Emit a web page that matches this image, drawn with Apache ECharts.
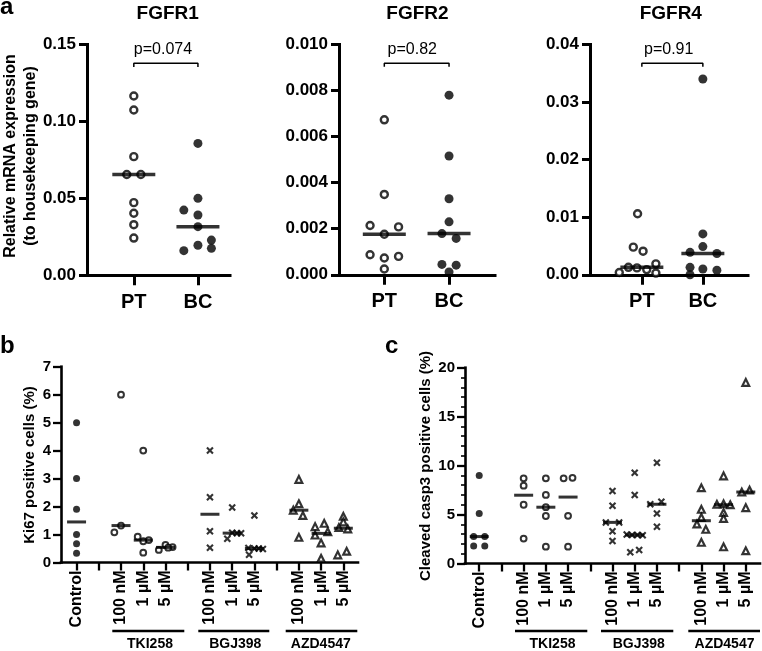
<!DOCTYPE html>
<html><head><meta charset="utf-8">
<script src="https://cdn.jsdelivr.net/npm/echarts@6/dist/echarts.min.js"></script>
<style>html,body{margin:0;padding:0;background:#fff}#c{width:762px;height:651px}</style>
</head><body><div id="c"></div>
<script>
// ---------------- DATA: panel a ----------------
const aCategories = ['PT', 'BC'];
const aTitles = ['FGFR1', 'FGFR2', 'FGFR4'];
const aPValues = ['p=0.074', 'p=0.82', 'p=0.91'];
const fgfr1Ticks = [0, 0.05, 0.10, 0.15];
const fgfr2Ticks = [0, 0.002, 0.004, 0.006, 0.008, 0.010];
const fgfr4Ticks = [0, 0.01, 0.02, 0.03, 0.04];

const fgfr1PT = [0.1165, 0.1074, 0.0771, 0.0655, 0.0655, 0.0472, 0.0403, 0.0329, 0.0242];
const fgfr1PTJitter = [0, 0, 0, -0.11, 0.11, 0, 0, 0, 0];
const fgfr1BC = [0.0857, 0.0500, 0.0424, 0.0392, 0.0316, 0.0229, 0.0195, 0.0175, 0.0160];
const fgfr1BCJitter = [0, 0, -0.22, 0, 0, 0.21, 0, 0.21, -0.22];

const fgfr2PT = [0.00673, 0.00349, 0.00214, 0.00208, 0.00176, 0.00087, 0.00080, 0.00073, 0.00025];
const fgfr2PTJitter = [0, 0, -0.22, 0.22, 0, -0.22, 0.22, 0, 0];
const fgfr2BC = [0.0078, 0.00516, 0.0033, 0.0023, 0.00179, 0.00158, 0.00045, 0.00042, 0.00012];
const fgfr2BCJitter = [0, 0, 0, 0, -0.11, 0.11, -0.11, 0.11, 0];

const fgfr4PT = [0.0106, 0.0048, 0.0041, 0.0019, 0.0013, 0.0012, 0.0009, 0.0004, 0.0003];
const fgfr4PTJitter = [-0.07, -0.14, 0.02, 0.23, -0.22, -0.08, 0.08, -0.37, 0.23];
const fgfr4BC = [0.0340, 0.0071, 0.0049, 0.0039, 0.0037, 0.0013, 0.0010, 0.0008, 0.0000];
const fgfr4BCJitter = [0, 0, 0, -0.21, 0.23, -0.21, 0, 0.23, -0.21];

// ---------------- DATA: panels b, c ----------------
const conditionLabels = ['Control', '', '100 nM', '1 µM', '5 µM', '', '100 nM', '1 µM', '5 µM', '', '100 nM', '1 µM', '5 µM'];
const drugGroups = ['TKI258', 'BGJ398', 'AZD4547'];
const ki67Ticks = [0, 1, 2, 3, 4, 5, 6, 7];
const casp3Ticks = [0, 5, 10, 15, 20];

const ki67Control = [5.0, 3.0, 1.9, 1.0, 0.67, 0.33];
const ki67ControlJitter = [0, 0, 0, 0, 0, 0];
const ki67Tki100 = [6.0, 1.32, 1.08];
const ki67Tki100Jitter = [0, 0, -0.3];
const ki67Tki1 = [4.0, 0.92, 0.8, 0.76, 0.35];
const ki67Tki1Jitter = [0, -0.25, 0.25, 0, 0];
const ki67Tki5 = [0.63, 0.55, 0.53, 0.45];
const ki67Tki5Jitter = [0, 0.32, 0.12, -0.3];
const ki67Bgj100 = [4.0, 2.33, 1.12, 0.53];
const ki67Bgj100Jitter = [0, 0, 0, 0];
const ki67Bgj1 = [1.97, 1.06, 1.05, 1.05, 0.85];
const ki67Bgj1Jitter = [0, 0, 0.22, 0.4, -0.22];
const ki67Bgj5 = [1.68, 0.52, 0.50, 0.50, 0.48, 0.28];
const ki67Bgj5Jitter = [0, -0.27, 0, 0.2, 0.38, -0.24];
const ki67Azd100 = [2.97, 2.10, 1.87, 1.68, 0.90];
const ki67Azd100Jitter = [0, 0, -0.25, 0.18, 0];
const ki67Azd1 = [1.40, 1.28, 1.10, 0.98, 0.70, 0.15];
const ki67Azd1Jitter = [0.14, -0.27, 0.3, -0.27, 0, 0];
const ki67Azd5 = [1.65, 1.45, 1.25, 1.20, 0.40, 0.27];
const ki67Azd5Jitter = [0, 0, -0.2, 0.2, 0.15, -0.25];

const casp3Control = [9.0, 5.1, 2.75, 2.75, 1.8, 1.8];
const casp3ControlJitter = [0, 0, -0.25, 0.25, -0.25, 0.25];
const casp3Tki100 = [8.7, 7.95, 6.0, 2.55];
const casp3Tki100Jitter = [0, 0, 0, 0];
const casp3Tki1 = [8.7, 7.0, 5.75, 4.85, 1.72];
const casp3Tki1Jitter = [0, 0, 0, 0, 0];
const casp3Tki5 = [8.75, 8.7, 4.87, 1.72];
const casp3Tki5Jitter = [0.2, -0.2, 0, 0];
const casp3Bgj100 = [7.4, 5.9, 4.2, 4.2, 3.3, 2.3];
const casp3Bgj100Jitter = [0, 0, -0.3, 0.3, 0, 0];
const casp3Bgj1 = [9.27, 7.0, 2.95, 2.92, 2.9, 2.88, 1.38, 1.14];
const casp3Bgj1Jitter = [0, 0, -0.36, -0.12, 0.12, 0.36, 0.2, -0.2];
const casp3Bgj5 = [10.3, 6.3, 6.05, 5.1, 3.75];
const casp3Bgj5Jitter = [0, 0.2, -0.3, 0, 0];
const casp3Azd100 = [7.73, 5.53, 4.71, 4.03, 3.49, 2.16];
const casp3Azd100Jitter = [0, 0, 0, -0.2, 0.2, 0];
const casp3Azd1 = [8.95, 6.1, 6.05, 6.0, 5.2, 4.6, 1.7];
const casp3Azd1Jitter = [0, 0, -0.3, 0.3, 0, 0, 0];
const casp3Azd5 = [18.5, 7.5, 7.3, 5.7, 1.3];
const casp3Azd5Jitter = [0, 0.17, -0.18, 0, 0];

// ---------------- BUILD ----------------
const FONT = '"Liberation Sans", Arial, sans-serif';
const crossPath = 'path://M2,0 L5,3 L8,0 L10,2 L7,5 L10,8 L8,10 L5,7 L2,10 L0,8 L3,5 L0,2 Z';
function median(a) { const s = [...a].sort((x, y) => x - y); const n = s.length; return n % 2 ? s[(n - 1) / 2] : (s[n / 2 - 1] + s[n / 2]) / 2; }
function pts(vals, jit, pos) { return vals.map((v, k) => [pos + jit[k], v]); }

const aSets = [
  { ticks: fgfr1Ticks, dec: 2, groups: [[fgfr1PT, fgfr1PTJitter], [fgfr1BC, fgfr1BCJitter]] },
  { ticks: fgfr2Ticks, dec: 3, groups: [[fgfr2PT, fgfr2PTJitter], [fgfr2BC, fgfr2BCJitter]] },
  { ticks: fgfr4Ticks, dec: 2, groups: [[fgfr4PT, fgfr4PTJitter], [fgfr4BC, fgfr4BCJitter]] }
];
const aGrids = [
  { left: 87, top: 44.5, width: 143, height: 230.8, xmin: 0.27, xmax: 2.5 },
  { left: 339, top: 44.5, width: 156, height: 230.3, xmin: 0.30, xmax: 2.71 },
  { left: 590, top: 44.5, width: 158, height: 230.3, xmin: 0.15, xmax: 2.74 }
];
const ki67Sets = [[ki67Control, ki67ControlJitter], null, [ki67Tki100, ki67Tki100Jitter], [ki67Tki1, ki67Tki1Jitter], [ki67Tki5, ki67Tki5Jitter], null,
  [ki67Bgj100, ki67Bgj100Jitter], [ki67Bgj1, ki67Bgj1Jitter], [ki67Bgj5, ki67Bgj5Jitter], null,
  [ki67Azd100, ki67Azd100Jitter], [ki67Azd1, ki67Azd1Jitter], [ki67Azd5, ki67Azd5Jitter]];
const casp3Sets = [[casp3Control, casp3ControlJitter], null, [casp3Tki100, casp3Tki100Jitter], [casp3Tki1, casp3Tki1Jitter], [casp3Tki5, casp3Tki5Jitter], null,
  [casp3Bgj100, casp3Bgj100Jitter], [casp3Bgj1, casp3Bgj1Jitter], [casp3Bgj5, casp3Bgj5Jitter], null,
  [casp3Azd100, casp3Azd100Jitter], [casp3Azd1, casp3Azd1Jitter], [casp3Azd5, casp3Azd5Jitter]];

const grids = [], xAxes = [], yAxes = [], series = [];
const black = '#000';

// panel a
aSets.forEach((set, i) => {
  const g = aGrids[i];
  grids.push({ left: g.left, top: g.top, width: g.width, height: g.height });
  const tmax = set.ticks[set.ticks.length - 1];
  xAxes.push({ gridIndex: i, type: 'value', min: g.xmin, max: g.xmax,
    axisLine: { show: true, onZero: false, lineStyle: { color: black, width: 3, cap: 'square' } },
    axisTick: { show: true, length: 10, customValues: [1, 2], lineStyle: { color: black, width: 3 } },
    axisLabel: { show: true, customValues: [1, 2], formatter: v => aCategories[Math.round(v) - 1], color: black, fontSize: 20, fontWeight: 'bold', fontFamily: FONT, margin: 17 },
    splitLine: { show: false } });
  yAxes.push({ gridIndex: i, type: 'value', min: set.ticks[0], max: tmax, interval: set.ticks[1] - set.ticks[0],
    axisLine: { show: true, onZero: false, lineStyle: { color: black, width: 3, cap: 'square' } },
    axisTick: { show: true, length: 8, lineStyle: { color: black, width: 3 } },
    axisLabel: { color: black, fontSize: 17, fontWeight: 'bold', fontFamily: FONT, margin: 11, formatter: v => v.toFixed(set.dec) },
    splitLine: { show: false } });
  set.groups.forEach(([vals, jit], k) => {
    const open = k === 0;
    series.push({ type: 'scatter', xAxisIndex: i, yAxisIndex: i, z: 3, data: pts(vals, jit, k + 1), symbol: 'circle',
      symbolSize: open ? 7 : 9,
      itemStyle: open ? { color: '#fff', borderColor: black, borderWidth: 2.4 } : { color: black } });
    series.push({ type: 'scatter', xAxisIndex: i, yAxisIndex: i, z: 5, data: [[k + 1, median(vals)]], symbol: 'rect', symbolSize: [43, 3.5], itemStyle: { color: black } });
  });
  const yb = tmax * 0.919, yt = tmax * 0.903;
  series.push({ type: 'line', xAxisIndex: i, yAxisIndex: i, symbol: 'none', data: [[1, yt], [1, yb], [2, yb], [2, yt]], lineStyle: { color: black, width: 1.5 }, z: 4 });
});

// panels b and c
const bcDefs = [
  { sets: ki67Sets, ticks: ki67Ticks, grid: { left: 61, top: 366.7, width: 297, height: 195.8 }, xmin: -0.7, xmax: 12.66, minor: false },
  { sets: casp3Sets, ticks: casp3Ticks, grid: { left: 465, top: 367.7, width: 295, height: 195.8 }, xmin: -0.64, xmax: 12.64, minor: true }
];
const labelPositions = conditionLabels.map((l, i) => l ? i : null).filter(v => v !== null);
const tickPositions = conditionLabels.map((l, i) => i);
function markerStyle(i) {
  if (i === 0) return { symbol: 'circle', symbolSize: 7, itemStyle: { color: black } };
  const g = Math.floor((i - 1) / 4);
  if (g === 0) return { symbol: 'circle', symbolSize: 5.8, itemStyle: { color: '#fff', borderColor: black, borderWidth: 2 } };
  if (g === 1) return { symbol: crossPath, symbolSize: 7.5, itemStyle: { color: black } };
  return { symbol: 'triangle', symbolSize: 6.8, itemStyle: { color: '#fff', borderColor: black, borderWidth: 2.2 } };
}
bcDefs.forEach((d, j) => {
  const gi = 3 + j;
  grids.push(d.grid);
  xAxes.push({ gridIndex: gi, type: 'value', min: d.xmin, max: d.xmax,
    axisLine: { show: true, onZero: false, lineStyle: { color: black, width: 2.6, cap: 'square' } },
    axisTick: { show: true, length: 8, customValues: tickPositions, lineStyle: { color: black, width: 2.3 } },
    axisLabel: { show: true, customValues: labelPositions, rotate: 90, formatter: v => conditionLabels[Math.round(v)], color: black, fontSize: 16, fontWeight: 'bold', fontFamily: FONT, margin: 8 },
    splitLine: { show: false } });
  yAxes.push({ gridIndex: gi, type: 'value', min: d.ticks[0], max: d.ticks[d.ticks.length - 1], interval: d.ticks[1] - d.ticks[0],
    axisLine: { show: true, onZero: false, lineStyle: { color: black, width: 2.6, cap: 'square' } },
    axisTick: { show: true, length: 8, lineStyle: { color: black, width: 2.3 } },
    minorTick: { show: d.minor, splitNumber: 5, length: 4, lineStyle: { color: black, width: 1.6 } },
    axisLabel: { color: black, fontSize: 15, fontWeight: 'bold', fontFamily: FONT, margin: 10 },
    splitLine: { show: false } });
  d.sets.forEach((s, i) => {
    if (!s) return;
    const [vals, jit] = s;
    series.push(Object.assign({ type: 'scatter', xAxisIndex: gi, yAxisIndex: gi, z: 3, data: pts(vals, jit, i) }, markerStyle(i)));
    series.push({ type: 'scatter', xAxisIndex: gi, yAxisIndex: gi, z: 5, data: [[i, median(vals)]], symbol: 'rect', symbolSize: [19, 3], itemStyle: { color: black } });
  });
});

// annotations
function txt(x, y, text, size, weight, rot, align) {
  return { type: 'text', x, y, rotation: rot || 0, z: 10,
    style: { text, fill: black, fontSize: size, fontWeight: weight, fontFamily: FONT, align: align || 'center', verticalAlign: 'middle' } };
}
const graphic = [
  txt(0, 7, 'a', 24, 'bold', 0, 'left'),
  txt(0, 346.7, 'b', 24, 'bold', 0, 'left'),
  txt(385, 346.7, 'c', 24, 'bold', 0, 'left'),
  txt(167.7, 13.4, aTitles[0], 19, 'bold'),
  txt(417.5, 13.4, aTitles[1], 19, 'bold'),
  txt(670.8, 13.4, aTitles[2], 19, 'bold'),
  txt(163, 49.5, aPValues[0], 16, 'normal'),
  txt(412.3, 49.5, aPValues[1], 16, 'normal'),
  txt(668.7, 49.5, aPValues[2], 16, 'normal'),
  txt(10.5, 156, 'Relative mRNA expression', 16, 'bold', Math.PI / 2),
  txt(30.5, 156, '(to housekeeping gene)', 16, 'bold', Math.PI / 2),
  txt(30, 465, 'Ki67 positive cells (%)', 15, 'bold', Math.PI / 2),
  txt(425.5, 466, 'Cleaved casp3 positive cells (%)', 15, 'bold', Math.PI / 2)
];
const groupLines = [[112.3, 184.3], [198.3, 269.3], [285.7, 357.3], [515, 587.3], [601, 673.3], [688.3, 760]];
const groupTextX = [150, 235.3, 320.8, 552.5, 638.7, 724.5];
groupLines.forEach((l, k) => {
  graphic.push({ type: 'line', z: 10, shape: { x1: l[0], y1: 631, x2: l[1], y2: 631 }, style: { stroke: black, lineWidth: 2.7 } });
  graphic.push(txt(groupTextX[k], 644.5, drugGroups[k % 3], 14, 'bold'));
});

const chart = echarts.init(document.getElementById('c'), null, { renderer: 'canvas' });
chart.setOption({
  animation: false,
  backgroundColor: '#fff',
  grid: grids, xAxis: xAxes, yAxis: yAxes, series, graphic
});
</script></body></html>
